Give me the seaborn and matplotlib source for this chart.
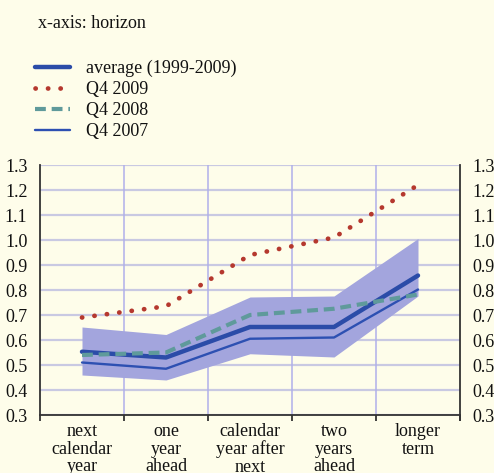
import matplotlib
matplotlib.use("Agg")
import matplotlib.pyplot as plt
import seaborn as sns
import pandas as pd
import numpy as np

categories = ["next\ncalendar\nyear", "one\nyear\nahead", "calendar\nyear after\nnext",
              "two\nyears\nahead", "longer\nterm"]
band_low = [0.46, 0.44, 0.545, 0.532, 0.776]
band_high = [0.652, 0.622, 0.772, 0.776, 1.006]
average = [0.553, 0.530, 0.652, 0.652, 0.858]
q4_2009 = [0.690, 0.735, 0.940, 1.010, 1.220]
q4_2008 = [0.540, 0.550, 0.700, 0.725, 0.782]
q4_2007 = [0.510, 0.485, 0.605, 0.610, 0.802]
yticks = [0.3, 0.4, 0.5, 0.6, 0.7, 0.8, 0.9, 1.0, 1.1, 1.2, 1.3]

bg = "#FEFDEA"
sns.set_theme(style="white")
plt.rcParams["font.family"] = ["Liberation Serif", "DejaVu Serif"]
FS = 13

fig = plt.figure(figsize=(4.94, 4.73), dpi=100, facecolor=bg)
W, H = 494, 473
ax = fig.add_axes([40 / W, 1 - 415 / H, 420 / W, 250 / H])
ax.set_facecolor(bg)

x = np.arange(len(categories))
df = pd.DataFrame({"x": x, "avg": average, "q9": q4_2009, "q8": q4_2008, "q7": q4_2007})

ax.set_xlim(-0.5, 4.5)
ax.set_ylim(0.3, 1.3)

# grid
for yv in yticks:
    ax.axhline(yv, color="#C9C9E2", lw=1.6, zorder=0)
for xv in np.arange(-0.5, 4.6, 1.0)[1:-1]:
    ax.axvline(xv, color="#B0B0EA", lw=1.1, zorder=0)

ax.fill_between(x, band_low, band_high, color="#A3A5DD", lw=0, zorder=1)

sns.lineplot(data=df, x="x", y="q7", ax=ax, color="#2D50B2", lw=1.7, zorder=3, legend=False)
l7 = ax.get_lines()[-1]
sns.lineplot(data=df, x="x", y="avg", ax=ax, color="#2B4CA8", lw=3.2, zorder=3, legend=False)
lavg = ax.get_lines()[-1]
sns.lineplot(data=df, x="x", y="q8", ax=ax, color="#5F9A9B", lw=3.0, zorder=4, legend=False)
l8 = ax.get_lines()[-1]
l8.set_linestyle((0, (2.6, 1.4)))
sns.lineplot(data=df, x="x", y="q9", ax=ax, color="#B5382E", lw=3.4, zorder=4, legend=False)
l9 = ax.get_lines()[-1]
l9.set_linestyle((0, (0.05, 2.6)))
l9.set_dash_capstyle("round")

ax.set_xlabel("")
ax.set_ylabel("")

# spines
ax.spines["top"].set_visible(False)
for s in ["left", "right", "bottom"]:
    ax.spines[s].set_visible(True)
    ax.spines[s].set_color("#333333")
    ax.spines[s].set_linewidth(1.3)
ax.spines["right"].set_bounds(0.28, 1.3)

# y ticks on both sides
ax.set_yticks(yticks)
ax.set_yticklabels([f"{v:.1f}" for v in yticks])
ax.tick_params(axis="y", which="both", left=False, right=False, labelleft=True,
               labelright=True, labelsize=FS, pad=3, colors="#111111")

# x ticks: major at boundaries (no labels), minor at centers (labels)
ax.set_xticks(np.arange(-0.5, 4.6, 1.0))
ax.set_xticklabels([])
ax.set_xticks(x, minor=True)
ax.set_xticklabels(categories, minor=True, fontsize=FS, linespacing=1.02)
ax.tick_params(axis="x", which="major", direction="out", length=4, width=1.3,
               color="#333333", bottom=True)
ax.tick_params(axis="x", which="minor", length=0, pad=6, colors="#111111")

# legend
fig.text(38 / W, 1 - 23 / H, "x-axis: horizon", fontsize=FS, va="center", ha="left",
         color="#111111")
handles = [lavg, l9, l8, l7]
labels = ["average (1999-2009)", "Q4 2009", "Q4 2008", "Q4 2007"]
leg = fig.legend(handles, labels, loc="upper left", bbox_to_anchor=(35 / W, 1 - 60 / H),
                 frameon=False, fontsize=FS, handlelength=1.95, handletextpad=0.85,
                 labelspacing=0.22, borderpad=0, borderaxespad=0)
for t in leg.get_texts():
    t.set_color("#111111")

fig.savefig("out.png", dpi=100, facecolor=bg)
